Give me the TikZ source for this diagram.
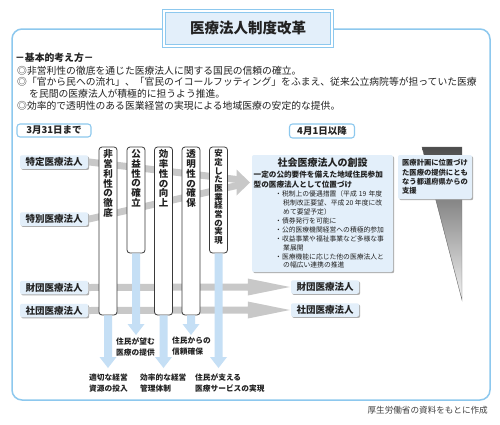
\documentclass[tikz,border=0pt]{standalone}
\usepackage{fontspec}
\setmainfont{Noto Sans CJK JP}
\usetikzlibrary{calc,shadows}
\XeTeXlinebreaklocale "ja"
\XeTeXlinebreakskip=0pt plus 1pt minus 0.4pt
\newcommand\fsz[2]{\fontsize{#1pt}{#2pt}\selectfont}
\definecolor{frameblue}{HTML}{8DC8EE}
\definecolor{fillblue}{HTML}{E3EFFA}
\definecolor{arrgray}{HTML}{C8C8C8}
\definecolor{arrblue}{HTML}{C5DFF5}
\definecolor{colline}{HTML}{3A3A3A}
\definecolor{txt}{HTML}{222222}
\tikzset{
  titlebox/.style={draw=frameblue, double=white, double distance=2pt, line width=1.1pt, fill=fillblue,
    minimum width=168pt, minimum height=35pt, inner sep=0pt, font=\bfseries\fsz{14.5}{15}},
  basic/.style={anchor=west, inner sep=0pt, font=\fsz{9.8}{10}},
  datebox/.style={rounded corners=3pt, draw=frameblue, line width=1.1pt, fill=white, inner sep=0pt,
    font=\bfseries\fsz{9.5}{10}},
  lbox/.style={rounded corners=2pt, fill=fillblue, inner sep=0pt,
    drop shadow={shadow xshift=1.2pt, shadow yshift=-1.2pt, fill=black!40, opacity=0.8}},
  corp/.style={lbox, minimum width=68pt, minimum height=13.5pt, font=\bfseries\fsz{9.5}{10}},
  colbox/.style={draw=colline, line width=0.8pt, rounded corners=3pt, fill=white, minimum width=18pt, inner sep=0pt},
  coltext/.style={anchor=north, align=center, inner sep=0pt, font=\bfseries\fsz{9.5}{9.75}},
  coltextsm/.style={anchor=north, align=center, inner sep=0pt, font=\bfseries\fsz{8.4}{8.65}},
  lbl/.style={anchor=west, align=left, inner sep=0pt, font=\bfseries\fsz{7.7}{11}},
  bul/.style={anchor=west, inner sep=0pt, font=\fsz{6.8}{7}},
  bhead/.style={anchor=west, inner sep=0pt, font=\bfseries\fsz{7.6}{8}},
  garr/.style={fill=arrgray},
  barr/.style={fill=arrblue},
}
\newcommand\downarr[2]{\fill[barr] ($(#1)+(-4,0)$) -- ($(#2)+(-4,-11)$) -- ($(#2)+(-8.5,-11)$) -- (#2)
  -- ($(#2)+(8.5,-11)$) -- ($(#2)+(4,-11)$) -- ($(#1)+(4,0)$) -- cycle;}
\newcommand\sidearr[2]{\fill[garr] ($(#1)+(0,-3.5)$) -- ($(#2)+(-43,-3.5)$) -- ($(#2)+(-43,-8.5)$) -- ($(#2)+(-1,0)$)
  -- ($(#2)+(-43,8.5)$) -- ($(#2)+(-43,3.5)$) -- ($(#1)+(0,3.5)$) -- cycle;}
\begin{document}
\begin{tikzpicture}[x=1pt,y=-1pt, every node/.append style={text=txt}]
\fill[white] (0,0) rectangle (500,424);
\useasboundingbox (0,0) rectangle (500,424);
% frame and title
\draw[frameblue, line width=1.5pt, rounded corners=10pt] (12,29) rectangle (490,400);
\node[titlebox] (title) at (248,28.5) {医療法人制度改革};
% basic ideas
\node[anchor=west, inner sep=0pt, font=\bfseries\fsz{9.8}{10}] (kh) at (15,58) {－基本的考え方－};
\node[basic] (b1) at (17,70.5) {◎非営利性の徹底を通じた医療法人に関する国民の信頼の確立。};
\node[basic] (b2) at (17,82) {\makebox[461pt][s]{◎「官から民への流れ」、「官民のイコールフッティング」をふまえ、従来公立病院等が担っていた医療}};
\node[basic] (b2b) at (29,93.5) {を民間の医療法人が積極的に担うよう推進。};
\node[basic] (b3) at (17,106) {◎効率的で透明性のある医業経営の実現による地域医療の安定的な提供。};
% date boxes
\node[datebox, minimum width=74pt, minimum height=13pt] (d1) at (54,130.5) {3月31日まで};
\node[datebox, minimum width=65pt, minimum height=14pt] (d2) at (322,131) {4月1日以降};
% left corporations
\node[corp] (tok) at (54,162) {特定医療法人};
\node[corp] (tob) at (54,219) {特別医療法人};
\node[corp] (zl) at (54,287.5) {財団医療法人};
\node[corp] (sl) at (54,310.5) {社団医療法人};
% right corporations
\node[corp] (zr) at (325,287) {財団医療法人};
\node[corp] (sr) at (325,310) {社団医療法人};
% converging gray arrows
\coordinate (ah) at (237,182.5);
\fill[garr] ($(tok.east)+(1,-3.5)$) -- ($(tok.east)+(1,3.5)$) -- ($(ah)+(0,0.5)$) -- ($(ah)+(0,-6.5)$) -- cycle;
\fill[garr] ($(tob.east)+(1,-3.5)$) -- ($(tob.east)+(1,3.5)$) -- ($(ah)+(0,6.5)$) -- ($(ah)+(0,-0.5)$) -- cycle;
\fill[garr] ($(ah)+(-0.5,-13)$) -- ($(ah)+(13,0)$) -- ($(ah)+(-0.5,13)$) -- cycle;
% horizontal gray arrows
\sidearr{zl.east}{zr.west}
\sidearr{sl.east}{sr.west}
% columns
\node[colbox, minimum height=168pt] (c1) at (108,231) {};
\node[colbox, minimum height=106pt] (c2) at (136,200) {};
\node[colbox, minimum height=168pt] (c3) at (163.5,231) {};
\node[colbox, minimum height=168pt] (c4) at (191,231) {};
\node[colbox, minimum height=106pt] (c5) at (218.5,200) {};
\node[coltext] (t1) at ($(c1.north)+(0,3)$) {非\\営\\利\\性\\の\\徹\\底};
\node[coltext] (t2) at ($(c2.north)+(0,3)$) {公\\益\\性\\の\\確\\立};
\node[coltext] (t3) at ($(c3.north)+(0,3)$) {効\\率\\性\\の\\向\\上};
\node[coltext] (t4) at ($(c4.north)+(0,3)$) {透\\明\\性\\の\\確\\保};
\node[coltextsm] (t5) at ($(c5.north)+(0,3)$) {安\\定\\し\\た\\医\\業\\経\\営\\の\\実\\現};
% blue arrows
\coordinate (e1) at (c1.south |- 0,368);
\coordinate (e2) at (c2.south |- 0,335);
\coordinate (e3) at (c3.south |- 0,368);
\coordinate (e4) at (c4.south |- 0,335);
\coordinate (e5) at (c5.south |- 0,368);
\downarr{c1.south}{e1}
\downarr{c2.south}{e2}
\downarr{c3.south}{e3}
\downarr{c4.south}{e4}
\downarr{c5.south}{e5}
\node[lbl] (l2) at (116,346.5) {住民が望む\\医療の提供};
\node[lbl] (l4) at (172,346.5) {住民からの\\信頼確保};
\node[lbl] (l1) at (89,383.5) {適切な経営\\資源の投入};
\node[lbl] (l3) at (140,383.5) {効率的な経営\\管理体制};
\node[lbl] (l5) at (195,383.5) {住民が支える\\医療サービスの実現};
% funnel and support box
\shade[top color=black!70, bottom color=black!5] (422,147) -- (462,147) -- (462,300) -- cycle;
\draw[black!60, line width=0.4pt] (422,147) -- (462,147) -- (462,300) -- cycle;
\node[lbox, minimum width=74pt, minimum height=44pt, align=left, font=\bfseries\fsz{7.3}{9.3}] (shien) at (435,177)
  {医療計画に位置づけ\\た医療の提供にとも\\なう都道府県からの\\支援};
% social medical corporation box
\node[lbox, minimum width=141pt, minimum height=117pt] (shakai) at (322.5,213.5) {};
\node[inner sep=0pt, font=\bfseries\fsz{10}{10}] (sh1) at (322.5,163) {社会医療法人の創設};
\node[bhead] (sh2) at (253.5,175) {一定の公的要件を備えた地域住民参加};
\node[bhead] (sh3) at (253.5,184.5) {型の医療法人として位置づけ};
\node[bul] (p1) at (275,194) {\makebox[107pt][s]{・税制上の優遇措置（平成 19 年度}};
\node[bul] (p1b) at (283,203) {\makebox[99pt][s]{税制改正要望、平成 20 年度に改}};
\node[bul] (p1c) at (283,212) {めて要望予定）};
\node[bul] (p2) at (275,221) {・債券発行を可能に};
\node[bul] (p3) at (275,230) {\makebox[107pt][s]{・公的医療機関経営への積極的参加}};
\node[bul] (p4) at (275,239) {\makebox[107pt][s]{・収益事業や福祉事業など多様な事}};
\node[bul] (p4b) at (283,247.5) {業展開};
\node[bul] (p5) at (275,256.5) {\makebox[107pt][s]{・医療機能に応じた他の医療法人と}};
\node[bul] (p5b) at (283,265) {の幅広い連携の推進};
% source
\node[anchor=east, inner sep=0pt, font=\fsz{8.6}{9}, text=black!75] (src) at (488,410) {厚生労働省の資料をもとに作成};
\end{tikzpicture}
\end{document}
